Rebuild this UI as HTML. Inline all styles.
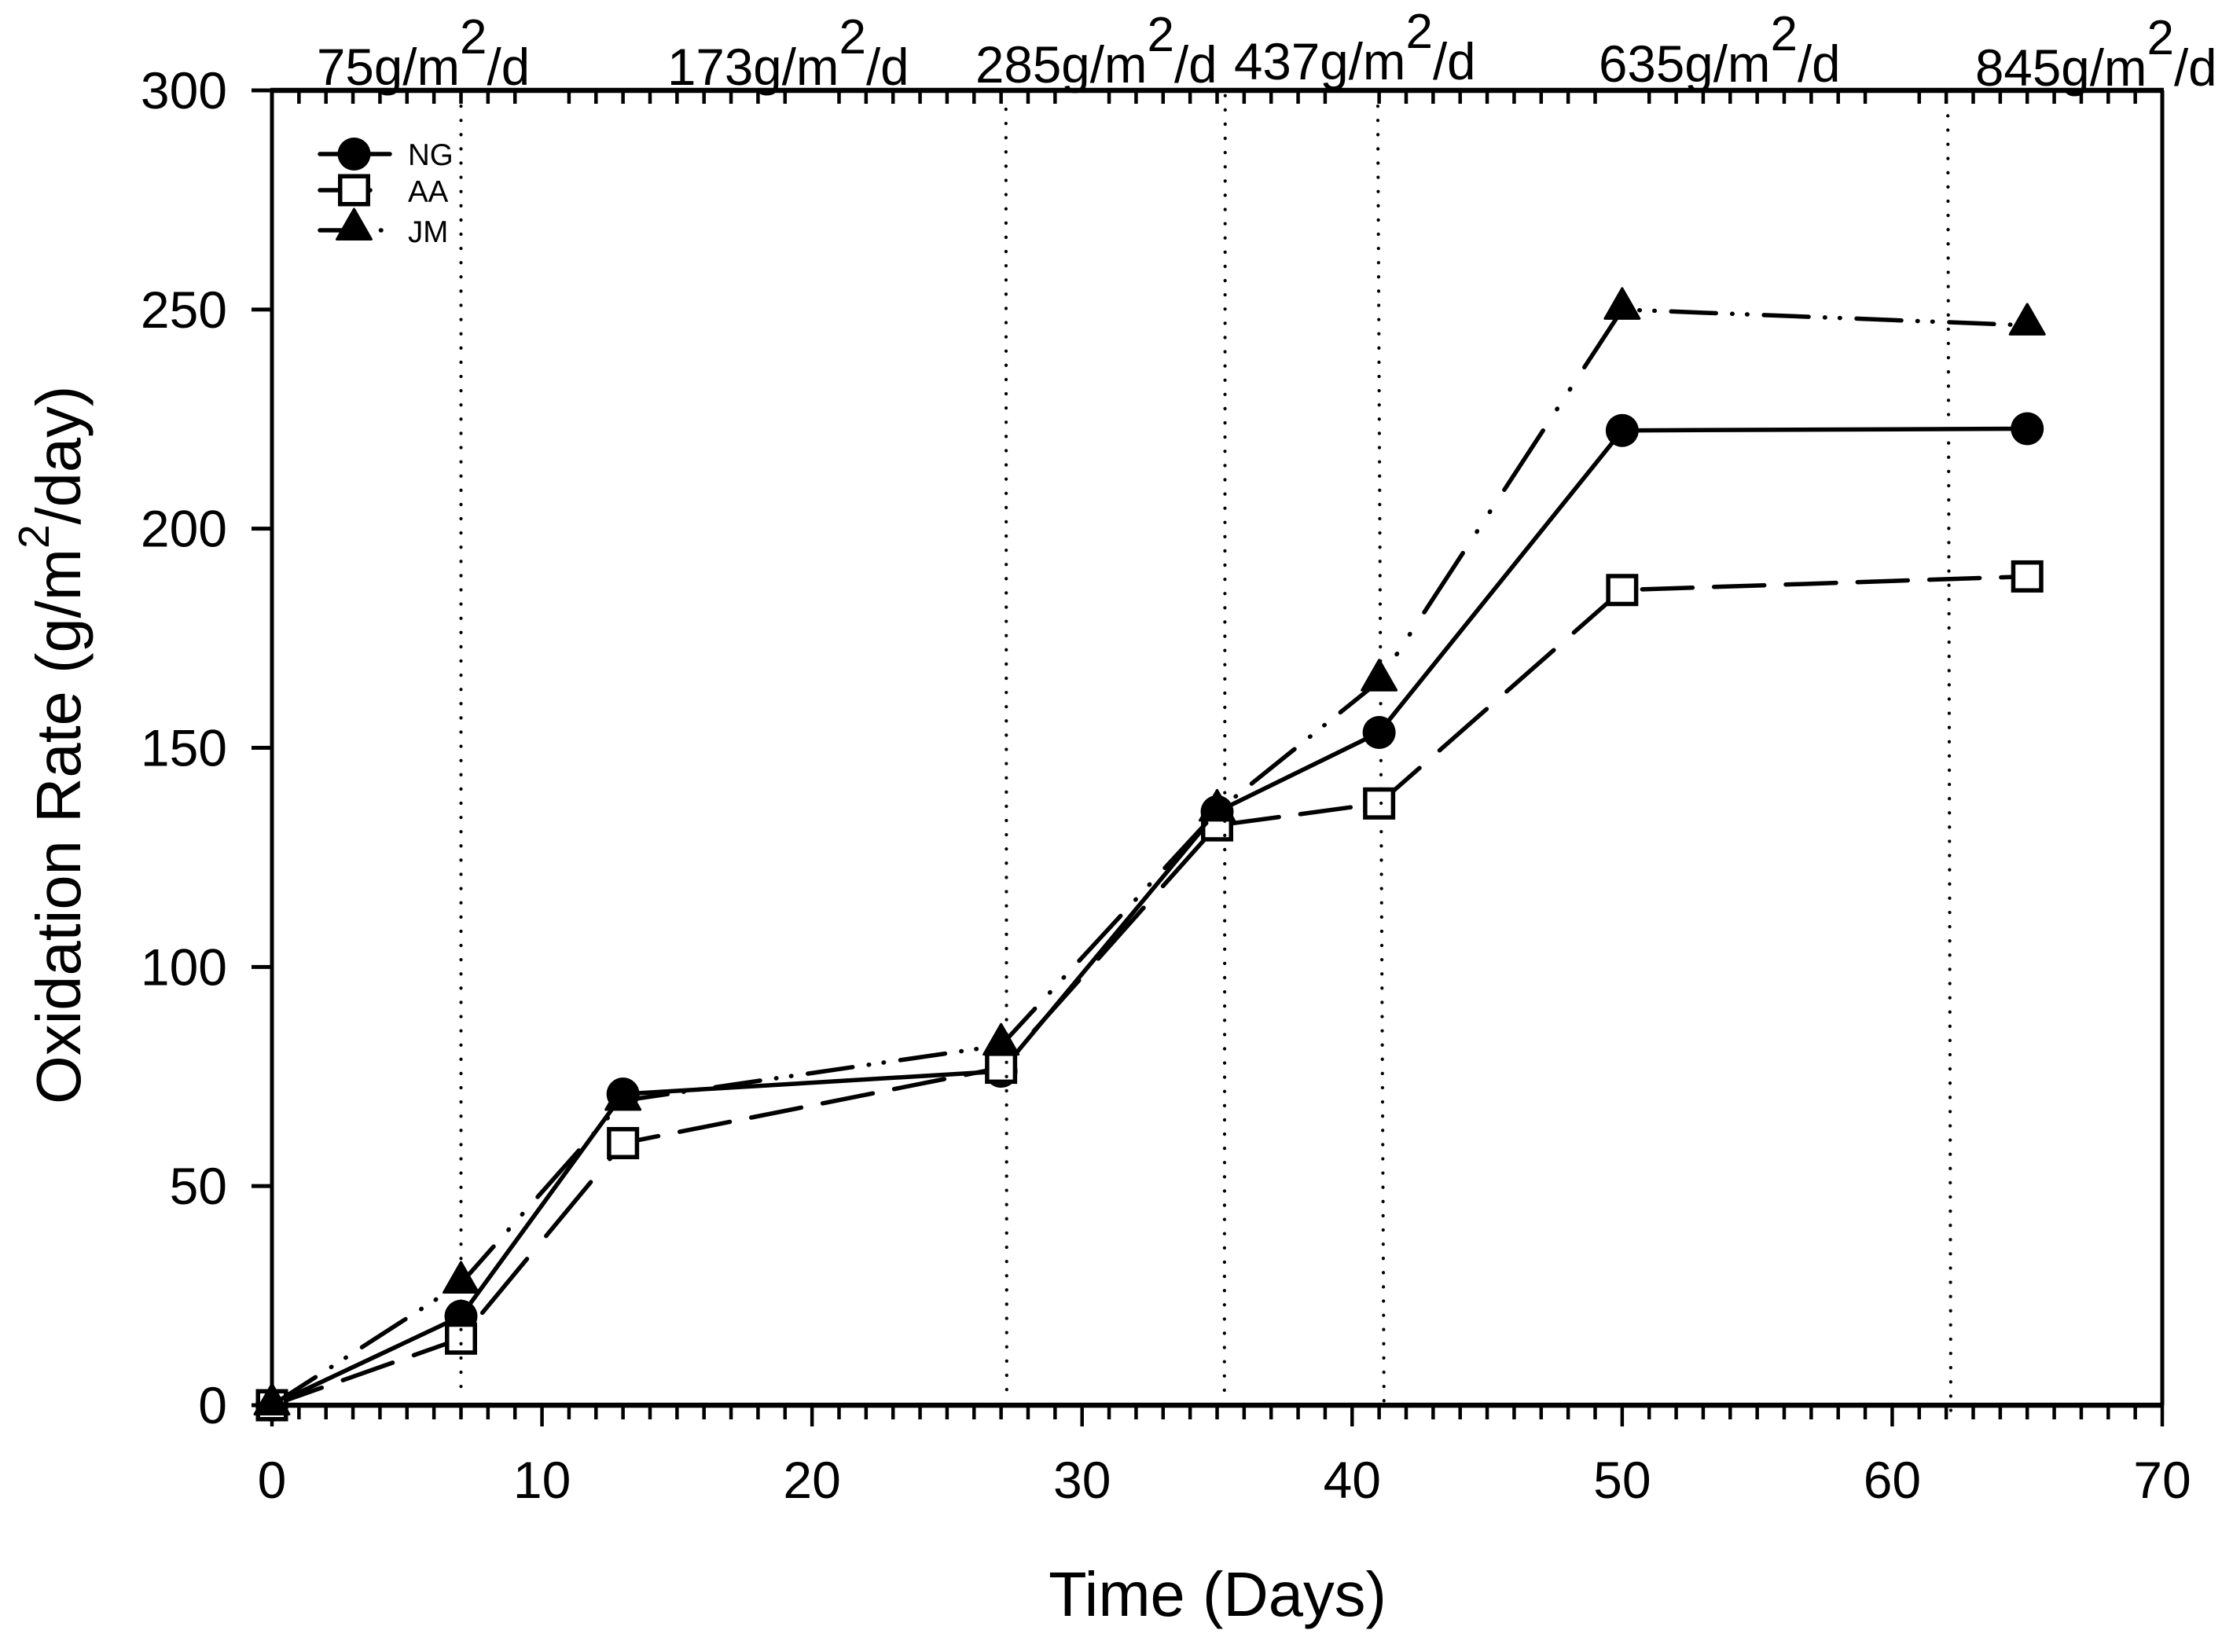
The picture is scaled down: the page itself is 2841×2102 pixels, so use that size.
<!DOCTYPE html>
<html lang="en">
<head>
<meta charset="utf-8">
<title>Oxidation Rate vs Time</title>
<style>
html,body{margin:0;padding:0;background:#fff;}
svg{display:block;}
text{font-family:"Liberation Sans",Arial,sans-serif;fill:#000;}
</style>
</head>
<body>
<svg id="chart" xmlns="http://www.w3.org/2000/svg" width="2841" height="2102" viewBox="0 0 2841 2102">
  <rect x="0" y="0" width="2841" height="2102" fill="#fff"/>
  <g id="axes"></g>
  <g id="series"></g>
  <g id="guides"></g>
  <g id="legend"></g>

  <g font-size="65.5">
    <text x="403" y="108">75g/m<tspan dy="-40" font-size="62">2</tspan><tspan dy="40">/d</tspan></text>
    <text x="849" y="108">173g/m<tspan dy="-40" font-size="62">2</tspan><tspan dy="40">/d</tspan></text>
    <text x="1241" y="105">285g/m<tspan dy="-40" font-size="62">2</tspan><tspan dy="40">/d</tspan></text>
    <text x="1570" y="101">437g/m<tspan dy="-40" font-size="62">2</tspan><tspan dy="40">/d</tspan></text>
    <text x="2034" y="104">635g/m<tspan dy="-40" font-size="62">2</tspan><tspan dy="40">/d</tspan></text>
    <text x="2513" y="109">845g/m<tspan dy="-40" font-size="62">2</tspan><tspan dy="40">/d</tspan></text>
  </g>

  <text x="1549" y="2056" font-size="79.5" text-anchor="middle">Time (Days)</text>
  <text transform="translate(102,1405) rotate(-90)" font-size="79.5">Oxidation Rate (g/m<tspan dy="-40" font-size="55">2</tspan><tspan dy="40">/day)</tspan></text>
</svg>

<script>
// ---- chart data ----
const days = [0, 7, 13, 27, 35, 41, 50, 65];
const ngValues = [0, 20.3, 71, 76.2, 135.4, 153.5, 222.4, 222.8];
const aaValues = [0, 15.2, 59.8, 77, 132.3, 137.3, 186, 189.1];
const jmValues = [0, 27.8, 69.5, 82.1, 135.5, 165.2, 250, 246.4];
const xTickLabels = [0, 10, 20, 30, 40, 50, 60, 70];
const yTickLabels = [0, 50, 100, 150, 200, 250, 300];
const guideTopDays = [7, 27.18, 35.3, 40.95, 62.06];
const guideBottomDays = [7, 27.21, 35.27, 41.18, 62.17];
const guideTopRates = [296.4, 295.7, 298.8, 296.4, 294.2];
const guideBottomRates = [3, 0.5, 0.5, 0.5, -2.3];
const legendLabels = ['NG', 'AA', 'JM'];

// ---- axis functions ----
const NS = 'http://www.w3.org/2000/svg';
const X0 = 346, X1 = 2751, Y0 = 1788, Y1 = 115;
const XMAX = 70, YMAX = 300;
function xS(d) { return X0 + d * (X1 - X0) / XMAX; }
function yS(v) { return Y0 - v * (Y0 - Y1) / YMAX; }

function el(parent, tag, attrs) {
  const e = document.createElementNS(NS, tag);
  for (const k in attrs) e.setAttribute(k, attrs[k]);
  parent.appendChild(e);
  return e;
}

// Dash walker: the reference's dash pattern advances mostly with horizontal distance.
function dashedPath(pts, pattern, k) {
  let d = '';
  let idx = 0, left = pattern[0], on = true;
  for (let i = 0; i + 1 < pts.length; i++) {
    const a = pts[i], b = pts[i + 1];
    const dx = b[0] - a[0], dy = b[1] - a[1];
    const len = Math.sqrt(dx * dx + k * k * dy * dy);
    let pos = 0;
    while (pos < len) {
      const step = Math.min(left, len - pos);
      if (on) {
        const t0 = pos / len, t1 = (pos + step) / len;
        d += 'M' + (a[0] + dx * t0).toFixed(1) + ' ' + (a[1] + dy * t0).toFixed(1) +
             'L' + (a[0] + dx * t1).toFixed(1) + ' ' + (a[1] + dy * t1).toFixed(1);
      }
      pos += step;
      left -= step;
      if (left <= 1e-6) {
        idx = (idx + 1) % pattern.length;
        left = pattern[idx];
        on = idx % 2 === 0;
      }
    }
  }
  return d;
}

const aaPattern = [64, 27.3];
const jmPattern = [57, 20.5, 0.5, 18.5, 0.5, 20.9];
const lineWidth = 5.5;

function drawMarker(parent, kind, x, y) {
  if (kind === 'circle') {
    return el(parent, 'circle', { cx: x, cy: y, r: 21, fill: '#000' });
  }
  if (kind === 'square') {
    return el(parent, 'rect', { x: x - 17.75, y: y - 17.75, width: 35.5, height: 35.5, fill: '#fff', stroke: '#000', 'stroke-width': 5.5 });
  }
  const pts = [[x, y - 27], [x + 22, y + 11.5], [x - 22, y + 11.5]].map(p => p.join(',')).join(' ');
  return el(parent, 'polygon', { points: pts, fill: '#000', stroke: '#000', 'stroke-width': 3, 'stroke-linejoin': 'round' });
}

// ---- axes ----
const axes = document.getElementById('axes');

const frame = [
  ['x-axis-line', X0 - 2, Y0, X1 + 2, Y0, 6.5],
  ['top-axis-line', X0 - 2, Y1, X1 + 2, Y1, 6.5],
  ['y-axis-line', X0, Y1, X0, Y0, 5],
  ['right-axis-line', X1, Y1, X1, Y0, 5]
];
frame.forEach(f => {
  const l = el(axes, 'line', { x1: f[1], y1: f[2], x2: f[3], y2: f[4], stroke: '#000', 'stroke-width': f[5] });
  
  
});

for (let d = 0; d <= XMAX; d++) {
  const major = d % 10 === 0;
  const bt = el(axes, 'line', { x1: xS(d), y1: Y0, x2: xS(d), y2: Y0 + (major ? 27 : 18), stroke: '#000', 'stroke-width': 4.5 });
  
  
  if (!major) {
    const tt = el(axes, 'line', { x1: xS(d), y1: Y1, x2: xS(d), y2: Y1 + 17, stroke: '#000', 'stroke-width': 4.5 });
    
    
  }
}

xTickLabels.forEach(v => {
  const t = el(axes, 'text', { x: xS(v), y: 1906, 'font-size': 66, 'text-anchor': 'middle' });
  t.textContent = String(v);
  
  
});

yTickLabels.forEach(v => {
  const tick = el(axes, 'line', { x1: X0 - 26, y1: yS(v), x2: X0, y2: yS(v), stroke: '#000', 'stroke-width': 5 });
  
  
  const t = el(axes, 'text', { x: 289, y: yS(v) + 23, 'font-size': 66, 'text-anchor': 'end' });
  t.textContent = String(v);
  
  
});

// ---- series ----
const seriesLayer = document.getElementById('series');

function drawSeries(name, values, kind, pattern, k) {
  const g = el(seriesLayer, 'g', {});
  
  
  const pts = days.map((d, i) => [xS(d), yS(values[i])]);
  const d = pattern
    ? dashedPath(pts, pattern, k)
    : 'M' + pts.map(p => p[0].toFixed(1) + ' ' + p[1].toFixed(1)).join('L');
  const line = el(g, 'path', { d: d, fill: 'none', stroke: '#000', 'stroke-width': lineWidth, 'stroke-linecap': 'round', 'stroke-linejoin': 'round' });
  
  
  pts.forEach(p => {
    const m = drawMarker(g, kind, p[0], p[1]);
    
    
  });
}

drawSeries('ng', ngValues, 'circle', null, 0);
drawSeries('aa', aaValues, 'square', aaPattern, 0.43);
drawSeries('jm', jmValues, 'triangle', jmPattern, 0.38);

// ---- dotted guides ----
const guides = document.getElementById('guides');
guideTopDays.forEach((d, i) => {
  const l = el(guides, 'line', {
    x1: xS(d), y1: yS(guideTopRates[i]),
    x2: xS(guideBottomDays[i]), y2: yS(guideBottomRates[i]),
    stroke: '#000', 'stroke-width': 4.2, 'stroke-linecap': 'round', 'stroke-dasharray': '0.1 18'
  });
  
  
});

// ---- legend ----
const legend = document.getElementById('legend');
const legendKinds = ['circle', 'square', 'triangle'];
const legendPatterns = [null, aaPattern, jmPattern];
const legendLineY = [196, 242, 293];
const legendTextY = [210, 257, 308];
legendLabels.forEach((name, i) => {
  const y = legendLineY[i];
  const sx = 407, ex = i === 0 ? 496 : 492;
  const d = legendPatterns[i]
    ? dashedPath([[sx, y], [ex, y]], legendPatterns[i], 1)
    : 'M' + sx + ' ' + y + 'L' + ex + ' ' + y;
  const l = el(legend, 'path', { d: d, fill: 'none', stroke: '#000', 'stroke-width': lineWidth, 'stroke-linecap': 'round' });
  
  
  const m = drawMarker(legend, legendKinds[i], 450.5, y);
  
  
  const t = el(legend, 'text', { x: 519, y: legendTextY[i], 'font-size': 38.5 });
  t.textContent = name;
  
  
});
</script>
</body>
</html>
